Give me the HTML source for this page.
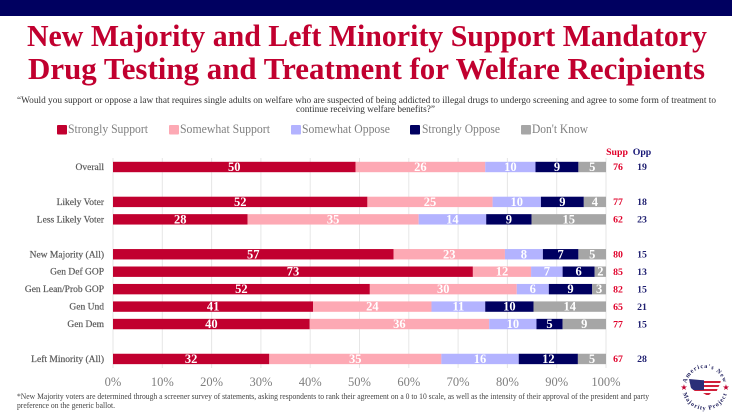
<!DOCTYPE html>
<html lang="en">
<head>
<meta charset="utf-8">
<title>Drug Testing and Treatment for Welfare Recipients</title>
<style>
html,body{margin:0;padding:0;background:#fff;width:732px;height:412px;overflow:hidden}
svg{display:block}
text{font-family:"Liberation Serif",serif}
</style>
</head>
<body>
<svg id="chart" xmlns="http://www.w3.org/2000/svg" width="732" height="412" viewBox="0 0 732 412">
  <rect x="0" y="0" width="732" height="16" fill="#000060"/>
  <text x="27" y="46" font-size="31" font-weight="bold" fill="#c1002f" textLength="680" lengthAdjust="spacingAndGlyphs">New Majority and Left Minority Support Mandatory</text>
  <text x="28" y="79" font-size="31" font-weight="bold" fill="#c1002f" textLength="677" lengthAdjust="spacingAndGlyphs">Drug Testing and Treatment for Welfare Recipients</text>
  <text x="17" y="103" font-size="9.6" fill="#333" textLength="699" lengthAdjust="spacingAndGlyphs">“Would you support or oppose a law that requires single adults on welfare who are suspected of being addicted to illegal drugs to undergo screening and agree to some form of treatment to</text>
  <text x="296" y="112" font-size="9.6" fill="#333" textLength="139" lengthAdjust="spacingAndGlyphs">continue receiving welfare benefits?”</text>

  <g font-size="12.5" fill="#7f7f7f">
    <g><rect x="57" y="125" width="10" height="9.5" rx="1" fill="#c1002f"/><text x="68" y="133" textLength="80" lengthAdjust="spacingAndGlyphs">Strongly Support</text></g>
    <g><rect x="169" y="125" width="10" height="9.5" rx="1" fill="#fda9b4"/><text x="180" y="133" textLength="90" lengthAdjust="spacingAndGlyphs">Somewhat Support</text></g>
    <g><rect x="291" y="125" width="10" height="9.5" rx="1" fill="#b3b3ff"/><text x="302" y="133" textLength="88" lengthAdjust="spacingAndGlyphs">Somewhat Oppose</text></g>
    <g><rect x="410" y="125" width="10" height="9.5" rx="1" fill="#000060"/><text x="422" y="133" textLength="78" lengthAdjust="spacingAndGlyphs">Strongly Oppose</text></g>
    <g><rect x="521" y="125" width="10" height="9.5" rx="1" fill="#a6a6a6"/><text x="532" y="133" textLength="56" lengthAdjust="spacingAndGlyphs">Don't Know</text></g>
  </g>

  <text x="617" y="155" font-size="9.8" font-weight="bold" fill="#e0002a" text-anchor="middle">Supp</text>
  <text x="642" y="155" font-size="9.8" font-weight="bold" fill="#1a1a78" text-anchor="middle">Opp</text>

  <g id="grid"></g>
  <g id="bars"></g>
  <g id="labels"></g>
  <g id="axis"></g>

  <text x="17" y="399" font-size="8" fill="#444" textLength="632" lengthAdjust="spacingAndGlyphs">*New Majority voters are determined through a screener survey of statements, asking respondents to rank their agreement on a 0 to 10 scale, as well as the intensity of their approval of the president and party</text>
  <text x="17" y="408" font-size="8" fill="#444" textLength="98" lengthAdjust="spacingAndGlyphs">preference on the generic ballot.</text>

  <g>
    <defs>
      <path id="logo-top-arc" d="M705 406 A19 19 0 0 1 705 368 A19 19 0 0 1 705 406"/>
      <path id="logo-bottom-arc" d="M705 364 A23 23 0 0 0 705 410 A23 23 0 0 0 705 364"/>
      <clipPath id="logo-us-shape"><path d="M689 379 L700 380 L716 381 L721 380 L720 384 L718 388 L716 393 L711 393 L708 396 L703 393 L696 392 L691 388 Z"/></clipPath>
    </defs>
    <text font-size="6.2" font-weight="bold" fill="#23235f" letter-spacing="0.9"><textPath href="#logo-top-arc" startOffset="50%" text-anchor="middle">America's New</textPath></text>
    <text font-size="6.2" font-weight="bold" fill="#23235f" letter-spacing="0.9"><textPath href="#logo-bottom-arc" startOffset="50%" text-anchor="middle">Majority Project</textPath></text>
    <g clip-path="url(#logo-us-shape)">
      <rect x="688" y="378" width="36" height="20" fill="#fff"/>
      <rect x="688" y="381" width="36" height="2" fill="#d0203a"/>
      <rect x="688" y="385" width="36" height="2" fill="#d0203a"/>
      <rect x="688" y="389" width="36" height="2" fill="#d0203a"/>
      <rect x="688" y="393" width="36" height="2" fill="#d0203a"/>
      <rect x="688" y="378" width="16" height="12" fill="#2b2f78"/>
    </g>
    <text x="684" y="390" font-size="8" fill="#c1002f" text-anchor="middle" style="font-family:'DejaVu Sans',sans-serif">★</text>
    <text x="726" y="390" font-size="8" fill="#c1002f" text-anchor="middle" style="font-family:'DejaVu Sans',sans-serif">★</text>
  </g>
</svg>
<script>
// Chart data
const categories = ["Overall", "", "Likely Voter", "Less Likely Voter", "", "New Majority (All)", "Gen Def GOP", "Gen Lean/Prob GOP", "Gen Und", "Gen Dem", "", "Left Minority (All)"];
const stronglySupport = [49.2, null, 51.6, 27.3, null, 56.9, 73.0, 52.1, 40.6, 39.9, null, 31.7];
const somewhatSupport = [26.3, null, 25.4, 34.7, null, 22.6, 11.8, 29.8, 24.0, 36.4, null, 34.9];
const somewhatOppose = [10.2, null, 9.8, 13.7, null, 7.7, 6.4, 6.5, 10.9, 9.6, null, 15.7];
const stronglyOppose = [8.7, null, 8.7, 9.2, null, 7.2, 6.5, 8.8, 9.8, 5.3, null, 12.0];
const dontKnow = [5.6, null, 4.5, 15.1, null, 5.6, 2.3, 2.8, 14.7, 8.8, null, 5.7];
const stronglySupportLabels = [50, null, 52, 28, null, 57, 73, 52, 41, 40, null, 32];
const somewhatSupportLabels = [26, null, 25, 35, null, 23, 12, 30, 24, 36, null, 35];
const somewhatOpposeLabels = [10, null, 10, 14, null, 8, 7, 6, 11, 10, null, 16];
const stronglyOpposeLabels = [9, null, 9, 9, null, 7, 6, 9, 10, 5, null, 12];
const dontKnowLabels = [5, null, 4, 15, null, 5, 2, 3, 14, 9, null, 5];
const supportTotals = [76, null, 77, 62, null, 80, 85, 82, 65, 77, null, 67];
const opposeTotals = [19, null, 18, 23, null, 15, 13, 15, 21, 15, null, 28];
const tickValues = [0, 10, 20, 30, 40, 50, 60, 70, 80, 90, 100];

const NS = "http://www.w3.org/2000/svg";
const plotLeft = 113, plotRight = 606, plotTop = 158, plotBottom = 368;
const firstRowY = 167, rowStep = 17.45, barHeight = 10.4;
const xScale = function (v) { return plotLeft + (plotRight - plotLeft) * v / 100; };
const yScale = function (i) { return firstRowY + rowStep * i; };

function make(tag, attrs, parent, txt) {
  const el = document.createElementNS(NS, tag);
  for (const k in attrs) el.setAttribute(k, attrs[k]);
  if (txt !== undefined) el.textContent = txt;
  parent.appendChild(el);
  return el;
}

const gridG = document.getElementById("grid");
const barsG = document.getElementById("bars");
const labelsG = document.getElementById("labels");
const axisG = document.getElementById("axis");

tickValues.forEach(function (t) {
  const line = make("line", { x1: xScale(t), x2: xScale(t), y1: plotTop, y2: plotBottom, stroke: "#e6e6e6", "stroke-width": 1 }, gridG);
  
  
  const tick = make("text", { x: xScale(t), y: 386, "font-size": 12.5, fill: "#7f7f7f", "text-anchor": "middle" }, axisG, t + "%");
  
  
});

const seriesList = [
  { key: "strongly-support", values: stronglySupport, labels: stronglySupportLabels, color: "#c1002f", text: "#fff" },
  { key: "somewhat-support", values: somewhatSupport, labels: somewhatSupportLabels, color: "#fda9b4", text: "#fff" },
  { key: "somewhat-oppose", values: somewhatOppose, labels: somewhatOpposeLabels, color: "#b3b3ff", text: "#fff" },
  { key: "strongly-oppose", values: stronglyOppose, labels: stronglyOpposeLabels, color: "#000060", text: "#fff" },
  { key: "dont-know", values: dontKnow, labels: dontKnowLabels, color: "#a6a6a6", text: "#fff" }
];

categories.forEach(function (cat, i) {
  if (!cat) return;
  const cy = yScale(i);
  const rowLabel = make("text", { x: 104, y: cy + 3, "font-size": 9.5, fill: "#595959", stroke: "#595959", "stroke-width": 0.2, "text-anchor": "end" }, labelsG, cat);
  
  
  let cum = 0;
  seriesList.forEach(function (s) {
    const v = s.values[i];
    const x0 = xScale(cum), x1 = xScale(cum + v);
    const bar = make("rect", { x: x0, y: cy - barHeight / 2, width: x1 - x0, height: barHeight, fill: s.color }, barsG);
    
    
    const val = make("text", { x: (x0 + x1) / 2, y: cy + 4, "font-size": 12.5, "font-weight": "bold", fill: s.text, "text-anchor": "middle" }, labelsG, s.labels[i]);
    
    
    cum += v;
  });
  const supp = make("text", { x: 618, y: cy + 3.2, "font-size": 9.8, "font-weight": "bold", fill: "#e0002a", "text-anchor": "middle" }, labelsG, supportTotals[i]);
  
  
  const opp = make("text", { x: 642, y: cy + 3.2, "font-size": 9.8, "font-weight": "bold", fill: "#1f1f70", "text-anchor": "middle" }, labelsG, opposeTotals[i]);
  
  
});
</script>
</body>
</html>
